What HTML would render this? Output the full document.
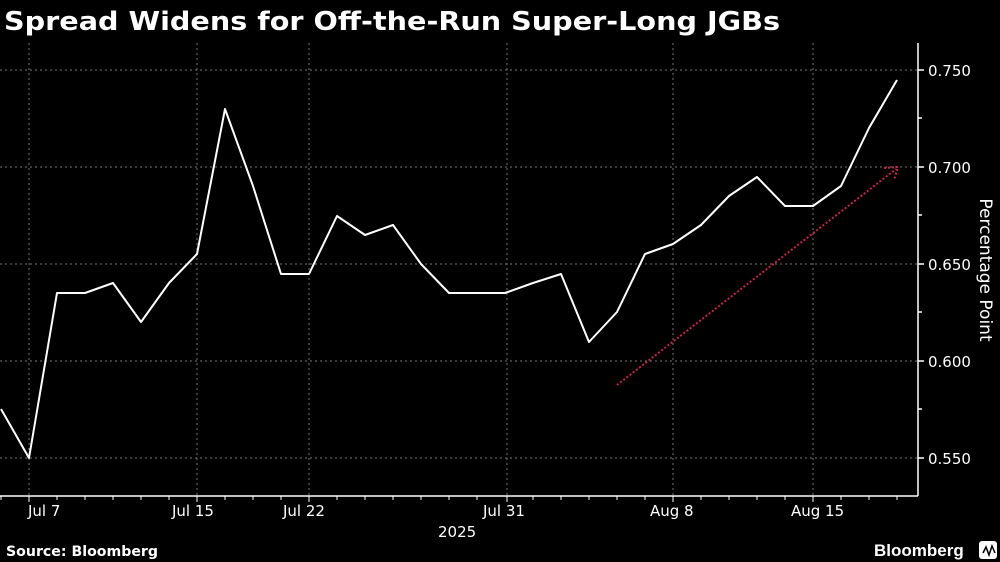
<!DOCTYPE html>
<html><head><style>
body{margin:0;background:#000;width:1000px;height:562px;overflow:hidden;font-family:"Liberation Sans",sans-serif;}
</style></head><body>
<svg width="1000" height="562" xmlns="http://www.w3.org/2000/svg" style="position:absolute;left:0;top:0">
<text x="4" y="30" fill="#fff" font-size="26" font-weight="bold" font-family="DejaVu Sans" textLength="776" lengthAdjust="spacingAndGlyphs">Spread Widens for Off-the-Run Super-Long JGBs</text>
<g stroke="#777" stroke-width="1" stroke-dasharray="2,3">
<line x1="0" y1="70" x2="918" y2="70"/><line x1="0" y1="167" x2="918" y2="167"/><line x1="0" y1="264" x2="918" y2="264"/><line x1="0" y1="361" x2="918" y2="361"/><line x1="0" y1="458" x2="918" y2="458"/>
<line x1="29" y1="43" x2="29" y2="496"/><line x1="197" y1="43" x2="197" y2="496"/><line x1="309" y1="43" x2="309" y2="496"/><line x1="507" y1="43" x2="507" y2="496"/><line x1="673" y1="43" x2="673" y2="496"/><line x1="813" y1="43" x2="813" y2="496"/>
</g>
<g stroke="#fff" stroke-width="1.5">
<line x1="0" y1="496" x2="918" y2="496"/><line x1="918" y1="43" x2="918" y2="496"/>
<line x1="918" y1="70" x2="924" y2="70"/><line x1="918" y1="167" x2="924" y2="167"/><line x1="918" y1="264" x2="924" y2="264"/><line x1="918" y1="361" x2="924" y2="361"/><line x1="918" y1="458" x2="924" y2="458"/>
<line x1="918" y1="118" x2="922" y2="118"/><line x1="918" y1="215" x2="922" y2="215"/><line x1="918" y1="312" x2="922" y2="312"/><line x1="918" y1="409" x2="922" y2="409"/>
</g>
<g stroke="#fff" stroke-width="1">
<path d="M1 496v4M29 496v6M57 496v4M85 496v4M113 496v4M141 496v4M169 496v4M197 496v6M225 496v4M253 496v4M281 496v4M309 496v6M337 496v4M365 496v4M393 496v4M421 496v4M449 496v4M477 496v4M507 496v6M533 496v4M561 496v4M589 496v4M617 496v4M645 496v4M673 496v6M701 496v4M729 496v4M757 496v4M785 496v4M813 496v6M841 496v4M869 496v4M897 496v4"/>
</g>
<g fill="#fff" font-size="15" font-family="DejaVu Sans">
<text x="928" y="76">0.750</text><text x="928" y="173">0.700</text><text x="928" y="270">0.650</text><text x="928" y="367">0.600</text><text x="928" y="464">0.550</text>
<text x="28" y="516">Jul 7</text><text x="172" y="516">Jul 15</text><text x="283" y="516">Jul 22</text><text x="483" y="516">Jul 31</text><text x="650" y="516">Aug 8</text><text x="791" y="516">Aug 15</text>
<text x="438" y="537">2025</text>
<text transform="translate(980,270) rotate(90)" text-anchor="middle" font-size="17">Percentage Point</text>
</g>
<polyline fill="none" stroke="#fff" stroke-width="2" stroke-linejoin="round" points="1,409 29,458 57,293 85,293 113,283 141,322 169,283 197,254 225,109 253,186 281,274 309,274 337,216 365,235 393,225 421,264 449,293 477,293 505,293 533,283 561,274 589,342 617,312 645,254 673,244 701,225 729,196 757,177 785,206 813,206 841,186 869,128 897,80"/>
<g stroke="#d0204a" stroke-width="2" stroke-dasharray="2,2" fill="none">
<line x1="617" y1="385" x2="896" y2="169"/>
<path d="M884 168L898 167L894 180"/>
</g>
<text x="6" y="556" fill="#fff" font-size="14" font-weight="bold" font-family="DejaVu Sans" textLength="152" lengthAdjust="spacingAndGlyphs">Source: Bloomberg</text>
<text x="874" y="556" fill="#fff" font-size="17" font-weight="bold" font-family="Liberation Sans">Bloomberg</text>
<rect x="979" y="541" width="18" height="18" rx="3" fill="#fff"/>
<path d="M983 553l3-6 3 8 3-9 3 7" stroke="#000" stroke-width="1.5" fill="none"/>
</svg>
</body></html>
